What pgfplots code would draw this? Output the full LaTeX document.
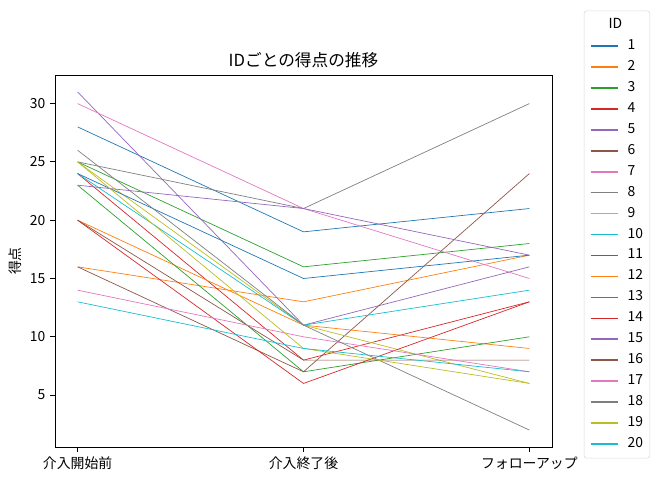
\documentclass[border=0pt]{standalone}
\usepackage{fontspec}
\setmainfont{Noto Sans CJK JP}
\usepackage{pgfplots}
\pgfplotsset{compat=1.18}
\definecolor{tabblue}{HTML}{1F77B4}
\definecolor{taborange}{HTML}{FF7F0E}
\definecolor{tabgreen}{HTML}{2CA02C}
\definecolor{tabred}{HTML}{D62728}
\definecolor{tabpurple}{HTML}{9467BD}
\definecolor{tabbrown}{HTML}{8C564B}
\definecolor{tabpink}{HTML}{E377C2}
\definecolor{tabgray}{HTML}{7F7F7F}
\definecolor{tabolive}{HTML}{BCBD22}
\definecolor{tabcyan}{HTML}{17BECF}
\begin{document}
\begin{tikzpicture}[x=1pt,y=1pt]
\begin{axis}[
  at={(0,0)}, anchor=south west, scale only axis,
  width=357.84pt, height=267.84pt,
  xmin=-0.1, xmax=2.1, ymin=0.55, ymax=32.45,
  xtick={0,1,2}, xticklabels={介入開始前,介入終了後,フォローアップ},
  ytick={5,10,15,20,25,30},
  tick align=outside, xtick pos=bottom, ytick pos=left,
  major tick length=3.5pt,
  tick style={black, line width=0.6pt},
  axis line style={line width=0.6pt},
  tick label style={font=\fontsize{10}{12}\selectfont},
  /pgf/number format/assume math mode=true,
  title={IDごとの得点の推移},
  title style={font=\fontsize{12}{14}\selectfont, anchor=base},
  ylabel={得点},
  ylabel style={font=\fontsize{10}{12}\selectfont, at={(axis description cs:0,0.5)}, anchor=center, yshift=28.8pt},
  every axis plot/.append style={line width=0.5pt},
  legend cell align=left,
  legend image code/.code={\draw[#1, line width=1.3pt] (0pt,0pt) -- (20pt,0pt);},
  legend style={at={(1.064,1.173)}, anchor=north west, font=\fontsize{10}{12}\selectfont,
    draw=black!15, rounded corners=2pt, row sep=4.1pt, inner xsep=4pt, inner ysep=4.5pt,
    nodes={inner sep=1pt, text height=7pt, text depth=2pt},
    /tikz/every odd column/.append style={column sep=5pt}},
]
\addlegendimage{empty legend}\addlegendentry{\makebox[0pt][l]{\hspace*{-13.7pt}ID}}
\addplot[tabblue] coordinates {(0,28) (1,19) (2,21)}; \addlegendentry{1}
\addplot[taborange] coordinates {(0,16) (1,13) (2,17)}; \addlegendentry{2}
\addplot[tabgreen] coordinates {(0,25) (1,16) (2,18)}; \addlegendentry{3}
\addplot[tabred] coordinates {(0,24) (1,8) (2,13)}; \addlegendentry{4}
\addplot[tabpurple] coordinates {(0,31) (1,11) (2,16)}; \addlegendentry{5}
\addplot[tabbrown] coordinates {(0,16) (1,7) (2,24)}; \addlegendentry{6}
\addplot[tabpink] coordinates {(0,30) (1,21) (2,15)}; \addlegendentry{7}
\addplot[tabgray] coordinates {(0,25) (1,21) (2,30)}; \addlegendentry{8}
\addplot[tabolive] coordinates {(0,25) (1,11) (2,6)}; \addlegendentry{9}
\addplot[tabcyan] coordinates {(0,24) (1,11) (2,14)}; \addlegendentry{10}
\addplot[tabblue] coordinates {(0,24) (1,15) (2,17)}; \addlegendentry{11}
\addplot[taborange] coordinates {(0,20) (1,11) (2,9)}; \addlegendentry{12}
\addplot[tabgreen] coordinates {(0,23) (1,7) (2,10)}; \addlegendentry{13}
\addplot[tabred] coordinates {(0,20) (1,6) (2,13)}; \addlegendentry{14}
\addplot[tabpurple] coordinates {(0,23) (1,21) (2,17)}; \addlegendentry{15}
\addplot[tabbrown] coordinates {(0,20) (1,8) (2,8)}; \addlegendentry{16}
\addplot[tabpink] coordinates {(0,14) (1,10) (2,7)}; \addlegendentry{17}
\addplot[tabgray] coordinates {(0,26) (1,11) (2,2)}; \addlegendentry{18}
\addplot[tabolive] coordinates {(0,25) (1,9) (2,6)}; \addlegendentry{19}
\addplot[tabcyan] coordinates {(0,13) (1,9) (2,7)}; \addlegendentry{20}
\end{axis}
\pgfresetboundingbox
\path[use as bounding box] (-39.6,-23.76) rectangle (436.32,321.84);
\end{tikzpicture}
\end{document}
